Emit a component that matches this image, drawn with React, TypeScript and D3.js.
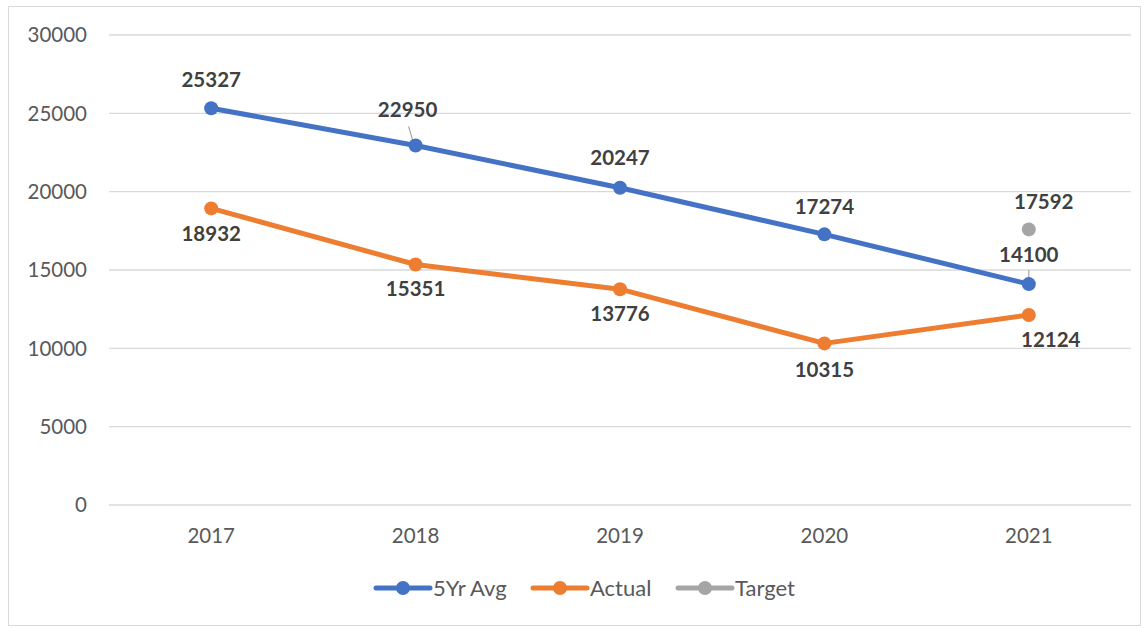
import React from "react";
import * as d3 from "d3";

const years = ["2017", "2018", "2019", "2020", "2021"];
const avg5 = [25327, 22950, 20247, 17274, 14100];
const actual = [18932, 15351, 13776, 10315, 12124];
const target = [null, null, null, null, 17592];
const yTicks = [0, 5000, 10000, 15000, 20000, 25000, 30000];

// label offsets (dx, dy) relative to points
const avgLabelOff = [[0, -28], [-8, -36], [0, -30], [0, -28], [0, -29]];
const actLabelOff = [[0, 25], [0, 24], [0, 25], [0, 26], [22, 25]];
const tgtLabelOff = [[0, 0], [0, 0], [0, 0], [0, 0], [15, -28]];

const W = 1148, H = 629;
const font = "Lato, 'Open Sans', sans-serif";
const fs = 20.5;

export default function App() {
  const x = d3.scaleBand().domain(years).range([109, 1131]);
  const y = d3.scaleLinear().domain([0, 30000]).range([505, 35]);
  const cx = (i: number) => (x(years[i]) as number) + x.bandwidth() / 2;
  const line = d3.line<number>().x((_, i) => cx(i)).y((d) => y(d));

  const series = [
    { name: "5Yr Avg", vals: avg5, color: "#4472C4", off: avgLabelOff },
    { name: "Actual", vals: actual, color: "#ED7D31", off: actLabelOff },
  ];

  const legend = [
    { name: "5Yr Avg", color: "#4472C4", x0: 376 },
    { name: "Actual", color: "#ED7D31", x0: 533 },
    { name: "Target", color: "#A5A5A5", x0: 678 },
  ];

  return (
    <svg width={W} height={H} style={{ position: "absolute", left: 0, top: 0 }}>
      <rect x={0} y={0} width={W} height={H} fill="#fff" />
      <rect x={8.5} y={6.5} width={1132} height={619} fill="#fff" stroke="#D9D9D9" strokeWidth={1} />
      {yTicks.map((t) => (
        <g key={t}>
          <line x1={109} x2={1131} y1={y(t)} y2={y(t)} stroke="#D9D9D9" strokeWidth={1.3} />
          <text x={87} y={y(t)} dy="0.35em" textAnchor="end" fontFamily={font} fontSize={fs} fill="#595959">
            {t}
          </text>
        </g>
      ))}
      {years.map((yr, i) => (
        <text key={yr} x={cx(i)} y={536} dy="0.35em" textAnchor="middle" fontFamily={font} fontSize={fs} fill="#595959">
          {yr}
        </text>
      ))}
      {/* leader lines */}
      <line x1={cx(1) - 7} y1={y(avg5[1]) - 19} x2={cx(1) - 2} y2={y(avg5[1]) - 2} stroke="#A5A5A5" strokeWidth={1.2} />
      <line x1={cx(4)} y1={y(avg5[4]) - 14} x2={cx(4)} y2={y(avg5[4]) - 3} stroke="#A5A5A5" strokeWidth={1.2} />
      {series.map((s) => (
        <g key={s.name}>
          <path d={line(s.vals) || ""} fill="none" stroke={s.color} strokeWidth={5} strokeLinejoin="round" strokeLinecap="round" />
          {s.vals.map((v, i) => (
            <circle key={i} cx={cx(i)} cy={y(v)} r={7} fill={s.color} />
          ))}
        </g>
      ))}
      {target.map((v, i) =>
        v == null ? null : <circle key={i} cx={cx(i)} cy={y(v)} r={7} fill="#A5A5A5" />
      )}
      {series.map((s) =>
        s.vals.map((v, i) => (
          <text key={s.name + i} x={cx(i) + s.off[i][0]} y={y(v) + s.off[i][1]} dy="0.35em" textAnchor="middle"
            fontFamily={font} fontSize={fs} fontWeight="bold" fill="#404040">
            {v}
          </text>
        ))
      )}
      {target.map((v, i) =>
        v == null ? null : (
          <text key={"t" + i} x={cx(i) + tgtLabelOff[i][0]} y={y(v) + tgtLabelOff[i][1]} dy="0.35em" textAnchor="middle"
            fontFamily={font} fontSize={fs} fontWeight="bold" fill="#404040">
            {v}
          </text>
        )
      )}
      {legend.map((l) => (
        <g key={l.name}>
          <line x1={l.x0} x2={l.x0 + 54} y1={588} y2={588} stroke={l.color} strokeWidth={5} strokeLinecap="round" />
          <circle cx={l.x0 + 27} cy={588} r={7} fill={l.color} />
          <text x={l.x0 + 57} y={588} dy="0.35em" fontFamily={font} fontSize={22} fill="#595959">
            {l.name}
          </text>
        </g>
      ))}
    </svg>
  );
}
